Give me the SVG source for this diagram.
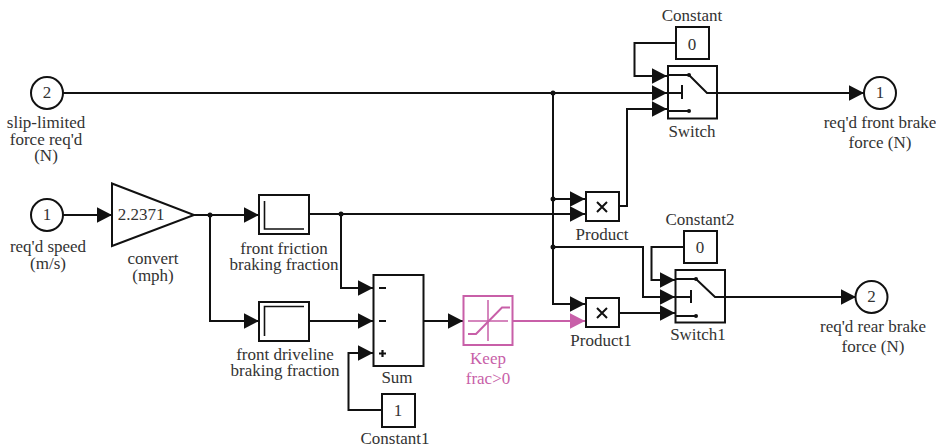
<svg xmlns="http://www.w3.org/2000/svg" width="936" height="448" viewBox="0 0 936 448">
<style>
text{font-family:"Liberation Serif","Times New Roman",serif;font-size:17px;fill:#333;text-anchor:middle}
.b{fill:#fff;stroke:#111;stroke-width:2}
.w{fill:none;stroke:#111;stroke-width:2}
.g{fill:none;stroke:#111;stroke-width:1.600}
.s{fill:none;stroke:#111;stroke-width:2.200}
.c{marker-end:url(#a)}
.p{fill:none;stroke:#c85fa8;stroke-width:2}
.d{fill:#111}
</style>
<defs>
<marker id="a" markerUnits="userSpaceOnUse" markerWidth="16" markerHeight="16" refX="15.500" refY="8" orient="auto"><path d="M0 0L15.500 8L0 16Z" fill="#111"/></marker>
<marker id="ap" markerUnits="userSpaceOnUse" markerWidth="16" markerHeight="16" refX="15.500" refY="8" orient="auto"><path d="M0 0L15.500 8L0 16Z" fill="#c85fa8"/></marker>
</defs>
<rect width="936" height="448" fill="#fff"/>
<g id="connectors">
<path class="w c" d="M63 93H667"/>
<path class="w c" d="M63 215H112"/>
<path class="w c" d="M194 215H259"/>
<path class="w c" d="M210 215V321H259"/>
<path class="w c" d="M309 214H585"/>
<path class="w c" d="M341 214V288H373"/>
<path class="w c" d="M309 321H373"/>
<path class="w c" d="M382 410H348.500V353H373"/>
<path class="w c" d="M423 321H463"/>
<path class="p" style="marker-end:url(#ap)" d="M513 321H585"/>
<path class="w c" d="M553 93V199H585"/>
<path class="w c" d="M553 199V304H585"/>
<path class="w c" d="M553 247H643V297H675"/>
<path class="w c" d="M676 43H634.500V76H667"/>
<path class="w c" d="M619 206H627V109H667"/>
<path class="w c" d="M684 247H651.500V280H675"/>
<path class="w c" d="M619 313H675"/>
<path class="w c" d="M717 93H864"/>
<path class="w c" d="M725 297H856"/>
<circle class="d" cx="553" cy="93" r="2.500"/>
<circle class="d" cx="553" cy="199" r="2.500"/>
<circle class="d" cx="553" cy="247" r="2.500"/>
<circle class="d" cx="210" cy="215" r="2.500"/>
<circle class="d" cx="341" cy="214" r="2.500"/>
</g>
<g id="in2"><circle class="b" cx="47" cy="93" r="16"/><text x="47" y="98">2</text>
<text x="46" y="128">slip-limited<tspan x="46" dy="17">force req'd</tspan><tspan x="46" dy="16">(N)</tspan></text></g>
<g id="in1"><circle class="b" cx="47" cy="215" r="16"/><text x="47" y="220">1</text>
<text x="48" y="252">req'd speed<tspan x="48" dy="17">(m/s)</tspan></text></g>
<g id="convert"><path class="b" d="M112 183.500L194 215L112 246Z"/><text x="141" y="220">2.2371</text>
<text x="153" y="264">convert<tspan x="153" dy="17">(mph)</tspan></text></g>
<g id="friction"><rect class="b" x="259" y="195" width="50" height="39"/>
<path class="g" d="M264.500 201V229H304"/>
<text x="284" y="254">front friction<tspan x="284" dy="16">braking fraction</tspan></text></g>
<g id="driveline"><rect class="b" x="259" y="302" width="50" height="39"/>
<path class="g" d="M264.500 336V306.500H304"/>
<text x="285" y="360">front driveline<tspan x="285" dy="16">braking fraction</tspan></text></g>
<g id="sum"><rect class="b" x="373.500" y="275" width="50" height="91"/>
<path class="s" d="M379 288H386M379 321H386M382.500 350V357M379 353.500H386"/>
<text x="397" y="383">Sum</text></g>
<g id="constant1"><rect class="b" x="382" y="394" width="33" height="33"/><text x="398" y="416">1</text>
<text x="395" y="444">Constant1</text></g>
<g id="keep"><rect x="463.500" y="296" width="49" height="49" fill="#fff" stroke="#c85fa8" stroke-width="2"/>
<path fill="none" stroke="#c85fa8" stroke-width="1.500" d="M468 321H508M488 300V341"/>
<path fill="none" stroke="#c85fa8" stroke-width="2" d="M468 334H476L502 307.500H510"/>
<text x="488" y="364" style="fill:#c85fa8">Keep<tspan x="488" dy="20">frac&gt;0</tspan></text></g>
<g id="product"><rect class="b" x="586" y="192" width="33" height="29"/>
<path d="M597 202L607 212M607 202L597 212" stroke="#111" stroke-width="2" fill="none"/>
<text x="602" y="240">Product</text></g>
<g id="product1"><rect class="b" x="586" y="298" width="33" height="29"/>
<path d="M597 308L607 318M607 308L597 318" stroke="#111" stroke-width="2" fill="none"/>
<text x="601" y="346">Product1</text></g>
<g id="constant"><rect class="b" x="676" y="27" width="33" height="32"/><text x="692" y="50">0</text>
<text x="692" y="21">Constant</text></g>
<g id="switch"><rect class="b" x="668" y="66" width="49" height="52.500"/>
<path class="w" d="M668 75H689L707 93H717M668 111H689M682 85V99M668 93H682"/>
<circle class="d" cx="689" cy="75" r="2"/><circle class="d" cx="689" cy="111" r="2"/>
<text x="692" y="137">Switch</text></g>
<g id="constant2"><rect class="b" x="684" y="231" width="33" height="32"/><text x="700" y="253">0</text>
<text x="700" y="225">Constant2</text></g>
<g id="switch1"><rect class="b" x="675.500" y="270" width="49.500" height="52.500"/>
<path class="w" d="M675 279H696L715 297H725M675 316H696M691 290V303M675 297H691"/>
<circle class="d" cx="696" cy="279" r="2"/><circle class="d" cx="696" cy="316" r="2"/>
<text x="698" y="340">Switch1</text></g>
<g id="out1"><circle class="b" cx="880" cy="93" r="16"/><text x="880" y="98">1</text>
<text x="880" y="128">req'd front brake<tspan x="880" dy="20">force (N)</tspan></text></g>
<g id="out2"><circle class="b" cx="871.500" cy="297" r="16"/><text x="871.500" y="302">2</text>
<text x="873" y="332">req'd rear brake<tspan x="873" dy="20">force (N)</tspan></text></g>
</svg>
